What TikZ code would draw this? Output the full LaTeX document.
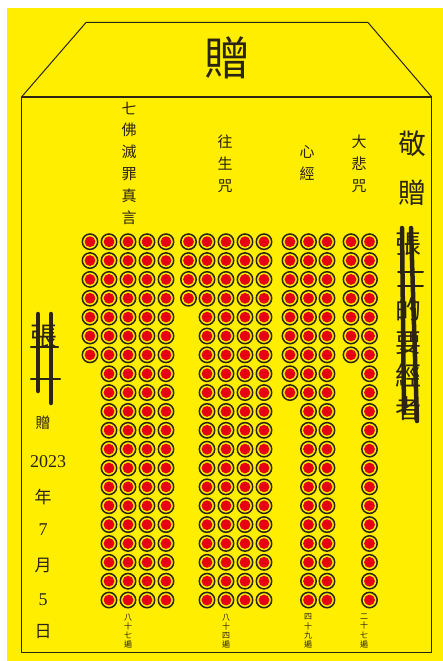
\documentclass[tikz,border=0pt]{standalone}
\usepackage{fontspec}
\newfontfamily\cjk{Noto Sans CJK TC}
\newfontfamily\digitfont{Liberation Serif}
\definecolor{envyellow}{HTML}{FFEE00}
\definecolor{beadred}{HTML}{E60012}
\definecolor{inkline}{HTML}{2B2314}
\tikzset{
  vtext/.style={align=center, inner sep=0pt, text=inkline},
  frame/.style={draw=inkline, line width=1pt},
  redact/.style={draw=inkline, line width=4.5pt, line cap=round},
}
\newcommand{\colfont}{\cjk\fontsize{15}{21.8}\selectfont}
\newcommand{\tinyfont}{\cjk\fontsize{8}{9.2}\selectfont}
\begin{document}
\begin{tikzpicture}[x=1pt,y=-1pt]
	\useasboundingbox (0,0) rectangle (443,661);
	\fill[white] (0,0) rectangle (443,661);
	\fill[envyellow] (7,8) rectangle (443,661);
	% envelope outline
	\draw[frame] (21.5,97) -- (86,22.5) -- (368,22.5) -- (431.7,97);
	\draw[frame, line width=1.4pt] (21.5,97) -- (431.7,97);
	\draw[frame] (21.5,97) -- (21.5,652) -- (431.7,652) -- (431.7,97);
	\node[vtext, font=\cjk\fontsize{46}{46}\selectfont] (title) at (227,58) {贈};
	% sutra names
	\node[vtext, font=\colfont] (qifo) at (129,163) {七\\佛\\滅\\罪\\真\\言};
	\node[vtext, font=\colfont] (wangsheng) at (225,164) {往\\生\\咒};
	\node[vtext, font=\colfont] (xinjing) at (307,163) {心\\經};
	\node[vtext, font=\colfont] (dabei) at (359,164) {大\\悲\\咒};
	% beads, one per recitation
	\foreach \cx/\nr in {90/6,109/19,128/19,147/19,166/19,
	                     188.5/3,207/19,226/19,245/19,264/19,
	                     290/8,308.5/19,327/19,
	                     351/6,369.5/19}
	  \foreach \r in {0,...,\nr} {
	    \pgfmathsetmacro\cy{241.7+18.86*\r}
	    \draw[inkline, line width=1.5pt, fill=envyellow] (\cx,\cy) circle (7.7);
	    \fill[beadred] (\cx,\cy) circle (5.4);
	  }
	\node[vtext, font=\tinyfont] (n1) at (128,631) {八\\十\\七\\遍};
	\node[vtext, font=\tinyfont] (n2) at (226,631) {八\\十\\四\\遍};
	\node[vtext, font=\tinyfont] (n3) at (308,631) {四\\十\\九\\遍};
	\node[vtext, font=\tinyfont] (n4) at (364,631) {二\\十\\七\\遍};
	% receiver (right)
	\node[vtext, font=\cjk\fontsize{28}{49}\selectfont] (jingzeng) at (412,168) {敬\\贈};
	\node[vtext, font=\cjk\fontsize{26}{33}\selectfont] (receiver) at (408,327) {張\\\mbox{}\\的\\要\\經\\者};
	\draw[redact] (402,228) -- (404,413);
	\draw[redact] (411,228) -- (417,421);
	\draw[redact, line width=2pt] (398,272) -- (423,272);
	\draw[redact, line width=2pt] (398,286) -- (423,286);
	% sender and date (left)
	\node[vtext, font=\cjk\fontsize{27}{27}\selectfont] (sender) at (44,337) {張};
	\draw[redact] (38,314) -- (38,391);
	\draw[redact] (51,314) -- (51,403);
	\draw[redact, line width=2.5pt] (31,347) -- (58,347);
	\draw[redact, line width=2.5pt] (31,379) -- (60,379);
	\node[vtext, font=\cjk\fontsize{15}{15}\selectfont] (zeng) at (43,423) {贈};
	\node[vtext, font=\digitfont\fontsize{18}{18}\selectfont] (year) at (48,462) {2023};
	\node[vtext, font=\cjk\fontsize{17}{17}\selectfont] (nian) at (43,497) {年};
	\node[vtext, font=\digitfont\fontsize{18}{18}\selectfont] (month) at (43,530) {7};
	\node[vtext, font=\cjk\fontsize{17}{17}\selectfont] (yue) at (43,565) {月};
	\node[vtext, font=\digitfont\fontsize{18}{18}\selectfont] (day) at (43,600) {5};
	\node[vtext, font=\cjk\fontsize{17}{17}\selectfont] (ri) at (43,632) {日};
\end{tikzpicture}
\end{document}
